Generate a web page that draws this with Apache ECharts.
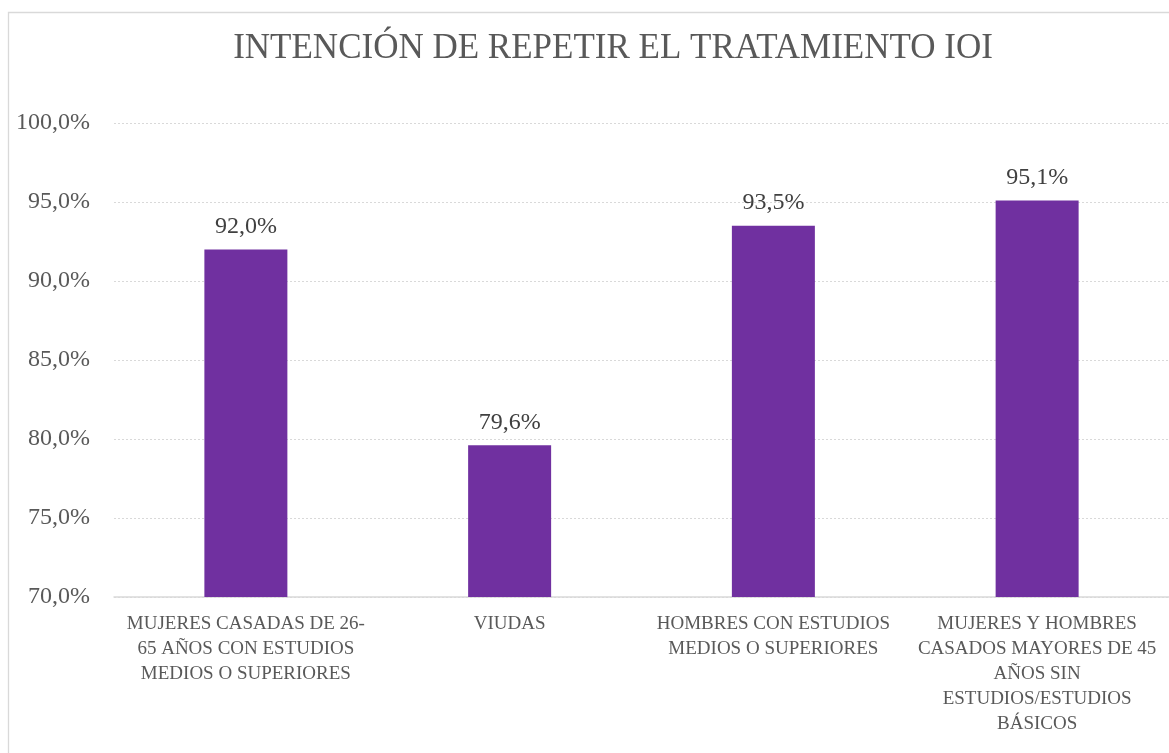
<!DOCTYPE html>
<html>
<head>
<meta charset="utf-8">
<script src="https://cdn.jsdelivr.net/npm/echarts@6/dist/echarts.min.js"></script>
<style>
html,body{margin:0;padding:0;background:#fff;}
#chart{width:1169px;height:753px;}
</style>
</head>
<body>
<div id="chart"></div>
<script>
const titleText = 'INTENCIÓN DE REPETIR EL TRATAMIENTO IOI';
const categories = [
  'MUJERES CASADAS DE 26-\n65 AÑOS CON ESTUDIOS\nMEDIOS O SUPERIORES',
  'VIUDAS',
  'HOMBRES CON ESTUDIOS\nMEDIOS O SUPERIORES',
  'MUJERES Y HOMBRES\nCASADOS MAYORES DE 45\nAÑOS SIN\nESTUDIOS/ESTUDIOS\nBÁSICOS'
];
const values = [92.0, 79.6, 93.5, 95.1];
const yMin = 70, yMax = 100, yStep = 5;

const fmt = v => v.toFixed(1).replace('.', ',') + '%';
const FONT = '"Liberation Serif", serif';

const chart = echarts.init(document.getElementById('chart'));
chart.setOption({
  animation: false,
  backgroundColor: '#fff',
  graphic: [{
    type: 'rect',
    shape: { x: 8.5, y: 12.5, width: 1400, height: 1000 },
    style: { fill: 'none', stroke: '#d9d9d9', lineWidth: 1.3 },
    silent: true, z: -1
  }],
  title: {
    text: titleText,
    left: 608, top: 26, textAlign: 'center',
    textStyle: { fontFamily: FONT, fontSize: 35, fontWeight: 'normal', color: '#595959' }
  },
  grid: { left: 114, top: 123, width: 1066, height: 474, containLabel: false },
  xAxis: {
    type: 'category',
    data: categories,
    axisLine: { lineStyle: { color: '#d9d9d9', width: 1.5 } },
    axisTick: { show: false },
    axisLabel: {
      interval: 0, margin: 15, lineHeight: 25,
      fontFamily: FONT, fontSize: 19, color: '#595959', align: 'center'
    }
  },
  yAxis: {
    type: 'value', min: yMin, max: yMax, interval: yStep,
    axisLine: { show: false }, axisTick: { show: false },
    axisLabel: { formatter: fmt, margin: 24, fontFamily: FONT, fontSize: 24, color: '#595959' },
    splitLine: { lineStyle: { color: '#d9d9d9', type: [2, 2], width: 1 } }
  },
  series: [{
    type: 'bar',
    data: values,
    barWidth: 83,
    itemStyle: { color: '#7030A0' },
    label: {
      show: true, position: 'top', distance: 11,
      formatter: p => fmt(p.value),
      fontFamily: FONT, fontSize: 24, color: '#404040'
    }
  }]
});
</script>
</body>
</html>
